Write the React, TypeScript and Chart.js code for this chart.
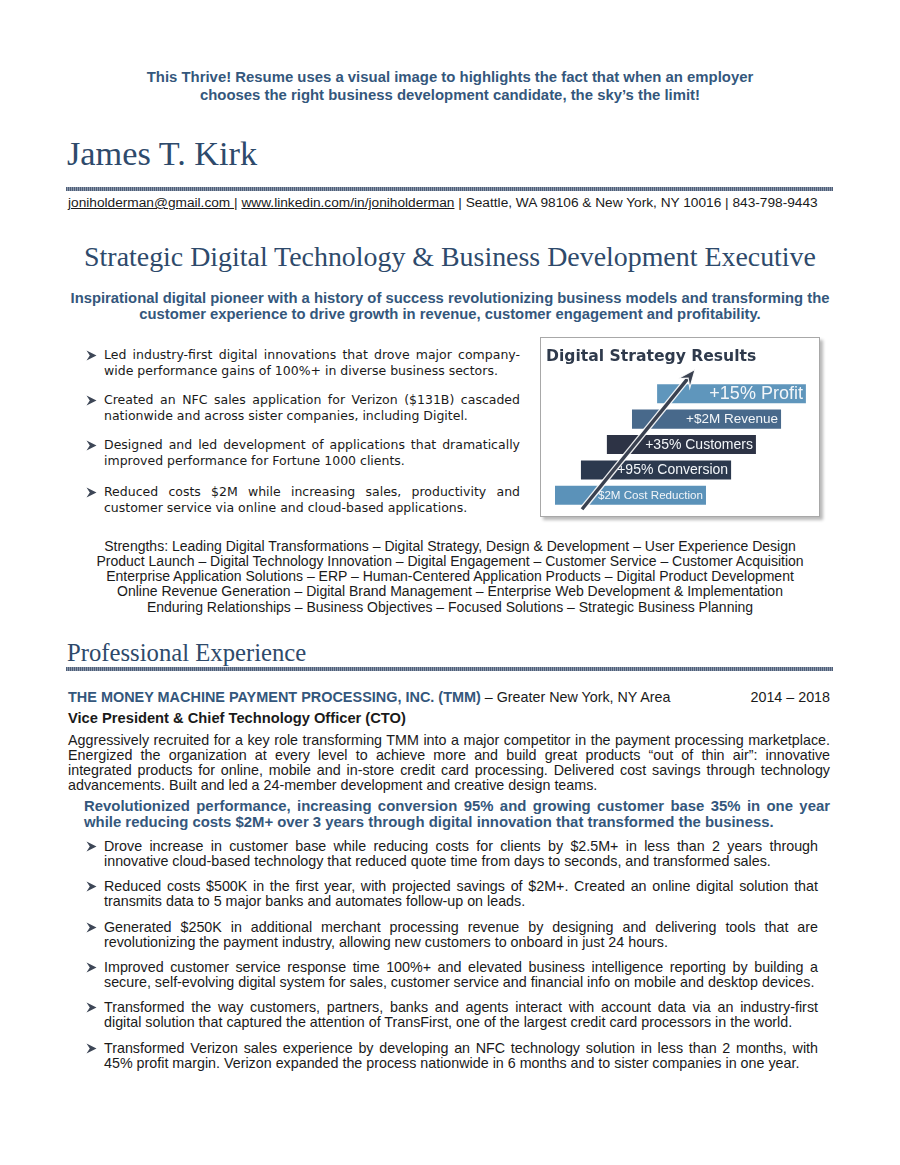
import React, { useEffect, useRef } from 'react';
import { Chart, registerables } from 'chart.js';

Chart.register(...registerables);

// ---- chart data (top to bottom) ----
const categories = ['+15% Profit', '+$2M Revenue', '+35% Customers', '+95% Conversion', '$2M Cost Reduction'];
const barStarts = [40.7, 31.5, 22.3, 12.8, 3.3];
const barEnds = [95.2, 86.1, 76.9, 67.8, 58.6];
const arrowXs = [13.2, 54.6];
const arrowYs = [4.55, -0.95];
const chartTitle = 'Digital Strategy Results';

const barColors = ['#5f96bc', '#48698b', '#2d3345', '#2c394e', '#5b92b9'];
const labelFontPx = [18, 13.5, 14, 14, 11.6];

const SANS = '"Liberation Sans", Arial, sans-serif';
const VERD = '"DejaVu Sans", Verdana, sans-serif';
const SERIF = '"Liberation Serif", "Times New Roman", serif';
const BLUE = '#34577c';
const HEAD = '#2e4a6b';

function ResultsChart() {
  const ref = useRef<HTMLCanvasElement>(null);
  useEffect(() => {
    if (!ref.current) return;
    const labelPlugin = {
      id: 'barLabels',
      afterDatasetsDraw(chart: any) {
        const ctx = chart.ctx;
        const meta = chart.getDatasetMeta(0);
        meta.data.forEach((bar: any, i: number) => {
          const p = bar.getProps(['x', 'y', 'base'], true);
          const right = Math.max(p.x, p.base);
          ctx.save();
          ctx.font = `${labelFontPx[i]}px ${SANS}`;
          ctx.fillStyle = '#f3f6f9';
          ctx.textAlign = 'right';
          ctx.textBaseline = 'middle';
          ctx.fillText(categories[i], right - 3, p.y + 0.5);
          ctx.restore();
        });
      },
    };
    const arrowPlugin = {
      id: 'growthArrow',
      afterDraw(chart: any) {
        const ctx = chart.ctx;
        const xs = chart.scales.x;
        const ys = chart.scales.y;
        const x0 = xs.getPixelForValue(arrowXs[0]);
        const y0 = ys.getPixelForValue(arrowYs[0]);
        const x1 = xs.getPixelForValue(arrowXs[1]);
        const y1 = ys.getPixelForValue(arrowYs[1]);
        const ang = Math.atan2(y1 - y0, x1 - x0);
        const headLen = 19;
        const notch = 11;
        const spread = 0.4;
        const nx = x1 - notch * Math.cos(ang);
        const ny = y1 - notch * Math.sin(ang);
        ctx.save();
        ctx.lineCap = 'butt';
        ctx.strokeStyle = 'rgba(255,255,255,0.9)';
        ctx.lineWidth = 6;
        ctx.beginPath();
        ctx.moveTo(x0, y0);
        ctx.lineTo(nx, ny);
        ctx.stroke();
        ctx.strokeStyle = '#3a4150';
        ctx.lineWidth = 3.4;
        ctx.beginPath();
        ctx.moveTo(x0, y0);
        ctx.lineTo(nx, ny);
        ctx.stroke();
        ctx.beginPath();
        ctx.moveTo(x1, y1);
        ctx.lineTo(x1 - headLen * Math.cos(ang - spread), y1 - headLen * Math.sin(ang - spread));
        ctx.lineTo(nx, ny);
        ctx.lineTo(x1 - headLen * Math.cos(ang + spread), y1 - headLen * Math.sin(ang + spread));
        ctx.closePath();
        ctx.fillStyle = '#3a4150';
        ctx.strokeStyle = 'rgba(255,255,255,0.9)';
        ctx.lineWidth = 1.2;
        ctx.fill();
        ctx.stroke();
        ctx.restore();
      },
    };
    const chart = new Chart(ref.current, {
      type: 'bar',
      data: {
        labels: categories,
        datasets: [
          {
            data: barStarts.map((s, i) => [s, barEnds[i]]) as any,
            backgroundColor: barColors,
            borderWidth: 0,
            borderSkipped: false,
            barPercentage: 0.75,
            categoryPercentage: 1,
          },
        ],
      },
      options: {
        responsive: false,
        animation: false,
        devicePixelRatio: 1,
        indexAxis: 'y',
        layout: { padding: { left: 5, right: 0, top: 0, bottom: 8 } },
        plugins: {
          legend: { display: false },
          tooltip: { enabled: false },
          title: {
            display: true,
            text: chartTitle,
            align: 'start',
            color: '#2f3a4c',
            font: { family: VERD, size: 15.6, weight: 'bold', lineHeight: 1.2 },
            padding: { top: 9.5, bottom: 14.8 },
          },
        },
        scales: {
          x: { type: 'linear', min: 0, max: 100, display: false },
          y: { type: 'category', display: false, offset: true },
        },
      } as any,
      plugins: [labelPlugin, arrowPlugin],
    });
    return () => chart.destroy();
  }, []);
  return <canvas ref={ref} width={278} height={178} style={{ display: 'block' }} />;
}

type LProps = { x: number; y: number; w: number; h?: number; j?: boolean; c?: boolean; style?: React.CSSProperties; children?: React.ReactNode };
function L({ x, y, w, h = 16, j, c, style, children }: LProps) {
  return (
    <div
      style={{
        position: 'absolute',
        left: x,
        top: y - h / 2,
        width: w,
        height: h,
        lineHeight: h + 'px',
        whiteSpace: j ? 'normal' : 'nowrap',
        textAlign: j ? 'justify' : c ? 'center' : 'left',
        textAlignLast: j ? 'justify' : c ? 'center' : 'left',
        ...style,
      }}
    >
      {children}
    </div>
  );
}

function Arrow({ x, y }: { x: number; y: number }) {
  return (
    <svg style={{ position: 'absolute', left: x, top: y - 5.5 }} width={11} height={11} viewBox="0 0 11 11">
      <polygon points="0.5,0.5 10.5,5.5 0.5,10.5 3.8,5.5" fill="#3d4656" />
    </svg>
  );
}

function Rule({ y }: { y: number }) {
  return (
    <div
      style={{
        position: 'absolute',
        left: 66,
        top: y,
        width: 767,
        height: 4,
        background: 'repeating-linear-gradient(90deg, #4f5f78 0px, #4f5f78 1px, #8c99ad 1px, #8c99ad 2px)',
      }}
    />
  );
}

const topBullets: [string, string][] = [
  ['Led industry-first digital innovations that drove major company-', 'wide performance gains of 100%+ in diverse business sectors.'],
  ['Created an NFC sales application for Verizon ($131B) cascaded', 'nationwide and across sister companies, including Digitel.'],
  ['Designed and led development of applications that dramatically', 'improved performance for Fortune 1000 clients.'],
  ['Reduced costs $2M while increasing sales, productivity and', 'customer service via online and cloud-based applications.'],
];
const topBulletY = [355, 400, 445, 492];

const strengths = [
  'Strengths: Leading Digital Transformations – Digital Strategy, Design & Development – User Experience Design',
  'Product Launch – Digital Technology Innovation – Digital Engagement – Customer Service – Customer Acquisition',
  'Enterprise Application Solutions – ERP – Human-Centered Application Products – Digital Product Development',
  'Online Revenue Generation – Digital Brand Management – Enterprise Web Development & Implementation',
  'Enduring Relationships – Business Objectives – Focused Solutions – Strategic Business Planning',
];
const strengthY = [546, 561, 576, 591, 607];

const para = [
  'Aggressively recruited for a key role transforming TMM into a major competitor in the payment processing marketplace.',
  'Energized the organization at every level to achieve more and build great products “out of thin air”: innovative',
  'integrated products for online, mobile and in-store credit card processing. Delivered cost savings through technology',
  'advancements. Built and led a 24-member development and creative design teams.',
];
const paraY = [740, 755, 770, 785];

const expBullets: [string, string][] = [
  ['Drove increase in customer base while reducing costs for clients by $2.5M+ in less than 2 years through', 'innovative cloud-based technology that reduced quote time from days to seconds, and transformed sales.'],
  ['Reduced costs $500K in the first year, with projected savings of $2M+. Created an online digital solution that', 'transmits data to 5 major banks and automates follow-up on leads.'],
  ['Generated $250K in additional merchant processing revenue by designing and delivering tools that are', 'revolutionizing the payment industry, allowing new customers to onboard in just 24 hours.'],
  ['Improved customer service response time 100%+ and elevated business intelligence reporting by building a', 'secure, self-evolving digital system for sales, customer service and financial info on mobile and desktop devices.'],
  ['Transformed the way customers, partners, banks and agents interact with account data via an industry-first', 'digital solution that captured the attention of TransFirst, one of the largest credit card processors in the world.'],
  ['Transformed Verizon sales experience by developing an NFC technology solution in less than 2 months, with', '45% profit margin. Verizon expanded the process nationwide in 6 months and to sister companies in one year.'],
];
const expBulletY = [846, 886, 927, 967, 1007, 1048];

export default function App() {
  const body: React.CSSProperties = { fontFamily: SANS, fontSize: 14.3, color: '#1a1a1a' };
  const bold: React.CSSProperties = { fontFamily: SANS, fontSize: 14.9, fontWeight: 'bold', color: BLUE };
  const verd: React.CSSProperties = { fontFamily: VERD, fontSize: 12.5, color: '#1a1a1a' };
  return (
    <div style={{ position: 'absolute', left: 0, top: 0, width: 900, height: 1165, background: '#fff', overflow: 'hidden' }}>
      <L x={0} y={77} w={900} h={18} c style={bold}>This Thrive! Resume uses a visual image to highlights the fact that when an employer</L>
      <L x={0} y={95} w={900} h={18} c style={bold}>chooses the right business development candidate, the sky’s the limit!</L>

      <L x={67} y={153} w={400} h={38} style={{ fontFamily: SERIF, fontSize: 34.3, color: HEAD }}>James T. Kirk</L>
      <Rule y={187} />
      <L x={68} y={203} w={780} h={16} style={{ ...body, fontSize: 13.7 }}>
        <span style={{ textDecoration: 'underline' }}>joniholderman@gmail.com </span>|{' '}
        <span style={{ textDecoration: 'underline' }}>www.linkedin.com/in/joniholderman</span> | Seattle, WA 98106 &amp; New York, NY 10016 | 843-798-9443
      </L>

      <L x={0} y={257} w={900} h={32} c style={{ fontFamily: SERIF, fontSize: 27.9, color: HEAD }}>
        Strategic Digital Technology &amp; Business Development Executive
      </L>
      <L x={0} y={298} w={900} h={16} c style={{ ...bold, fontSize: 14.8 }}>
        Inspirational digital pioneer with a history of success revolutionizing business models and transforming the
      </L>
      <L x={0} y={314} w={900} h={16} c style={{ ...bold, fontSize: 14.8 }}>
        customer experience to drive growth in revenue, customer engagement and profitability.
      </L>

      {topBullets.map((b, i) => (
        <React.Fragment key={'tb' + i}>
          <Arrow x={86} y={topBulletY[i]} />
          <L x={104} y={topBulletY[i]} w={416} j style={verd}>{b[0]}</L>
          <L x={104} y={topBulletY[i] + 15.5} w={416} style={verd}>{b[1]}</L>
        </React.Fragment>
      ))}

      <div
        style={{
          position: 'absolute',
          left: 540,
          top: 337,
          width: 278,
          height: 178,
          border: '1px solid #a8a8a8',
          boxShadow: '3px 3px 3px rgba(0,0,0,0.28)',
          background: '#fff',
        }}
      >
        <ResultsChart />
      </div>

      {strengths.map((s, i) => (
        <L key={'s' + i} x={0} y={strengthY[i]} w={900} c style={{ ...body, fontSize: 14 }}>{s}</L>
      ))}

      <L x={67} y={653} w={500} h={28} style={{ fontFamily: SERIF, fontSize: 24.7, color: HEAD }}>Professional Experience</L>
      <Rule y={667} />

      <L x={68} y={697} w={762} style={body}>
        <span style={{ fontWeight: 'bold', color: BLUE, fontSize: 14.45 }}>THE MONEY MACHINE PAYMENT PROCESSING, INC. (TMM)</span> – Greater New York, NY Area
      </L>
      <L x={600} y={697} w={230} style={{ ...body, textAlign: 'right', textAlignLast: 'right' }}>2014 – 2018</L>
      <L x={68} y={718} w={762} style={{ ...bold, fontSize: 14.7, color: '#1a1a1a' }}>Vice President &amp; Chief Technology Officer (CTO)</L>

      {para.map((p, i) => (
        <L key={'p' + i} x={68} y={paraY[i]} w={762} j={i < para.length - 1} style={body}>{p}</L>
      ))}

      <L x={84} y={806} w={746} j style={bold}>
        Revolutionized performance, increasing conversion 95% and growing customer base 35% in one year
      </L>
      <L x={84} y={822} w={746} style={bold}>
        while reducing costs $2M+ over 3 years through digital innovation that transformed the business.
      </L>

      {expBullets.map((b, i) => (
        <React.Fragment key={'eb' + i}>
          <Arrow x={86} y={expBulletY[i]} />
          <L x={104} y={expBulletY[i]} w={714} j style={body}>{b[0]}</L>
          <L x={104} y={expBulletY[i] + 15} w={714} style={body}>{b[1]}</L>
        </React.Fragment>
      ))}
    </div>
  );
}
